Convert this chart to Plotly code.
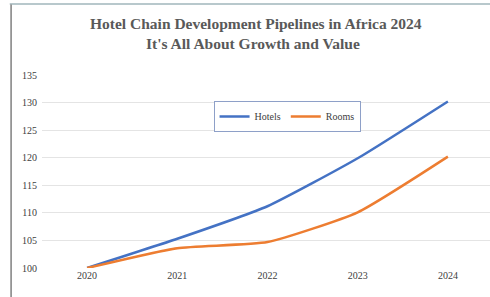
import plotly.graph_objects as go

years = ["2020", "2021", "2022", "2023", "2024"]
hotels = [100, 105.3, 111.2, 119.9, 130.2]
rooms = [100, 103.6, 104.7, 110.1, 120.2]
y_ticks = [100, 105, 110, 115, 120, 125, 130, 135]
title_lines = ["Hotel Chain Development Pipelines in Africa 2024", "It's All About Growth and Value"]

fig = go.Figure()
fig.add_trace(go.Scatter(x=years, y=hotels, name="Hotels", mode="lines",
                         line=dict(color="#4472C4", width=2.5, shape="spline", smoothing=0.5)))
fig.add_trace(go.Scatter(x=years, y=rooms, name="Rooms", mode="lines",
                         line=dict(color="#ED7D31", width=2.5, shape="spline", smoothing=0.5)))

tick_font = dict(family="Liberation Serif", size=10, color="#404040")
fig.update_layout(
    width=490, height=297,
    margin=dict(l=42, r=0, t=75, b=29),
    paper_bgcolor="white", plot_bgcolor="white",
    xaxis=dict(type="category", range=[-0.5, 4.467], showgrid=False, showline=False,
               ticks="", tickfont=tick_font),
    yaxis=dict(range=[100, 135], tickvals=y_ticks, showgrid=True, gridcolor="#E4E4E4",
               gridwidth=1, zeroline=False, showline=False, ticks="",
               ticklabelstandoff=4, tickfont=tick_font),
    legend=dict(orientation="h", x=0.547, y=0.785, xanchor="center", yanchor="middle",
                bordercolor="#8EA0C8", borderwidth=1, bgcolor="white",
                font=dict(family="Liberation Serif", size=10, color="#404040"),
                itemwidth=30, tracegroupgap=0),
    showlegend=True,
)

fig.add_annotation(text="<b>" + title_lines[0] + "</b>", xref="paper", yref="paper",
                   x=0.478, y=1.268, xanchor="center", yanchor="middle", showarrow=False,
                   font=dict(family="Liberation Serif", size=15.5, color="#595959"))
fig.add_annotation(text="<b>" + title_lines[1] + "</b>", xref="paper", yref="paper",
                   x=0.471, y=1.163, xanchor="center", yanchor="middle", showarrow=False,
                   font=dict(family="Liberation Serif", size=15.5, color="#595959"))

fig.add_shape(type="line", xref="paper", yref="paper", x0=-0.072, x1=1.0, y0=1.368, y1=1.368,
              line=dict(color="#B8C8CC", width=2))
fig.add_shape(type="line", xref="paper", yref="paper", x0=-0.069, x1=-0.069, y0=-0.16, y1=1.365,
              line=dict(color="#7F7F7F", width=1.5))

fig.write_html("out.html", config={"displayModeBar": False},
               post_script="document.body.style.margin='0';")
